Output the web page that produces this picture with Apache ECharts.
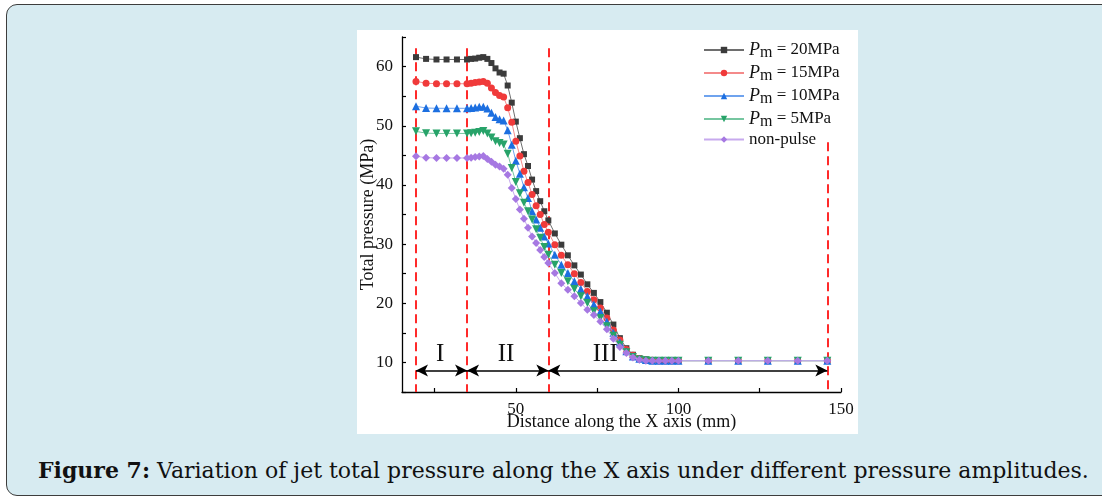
<!DOCTYPE html>
<html>
<head>
<meta charset="utf-8">
<script src="https://cdn.jsdelivr.net/npm/echarts@6/dist/echarts.min.js"></script>
<style>
  html, body { margin: 0; padding: 0; background: #fff; }
  body { width: 1102px; height: 498px; position: relative; overflow: hidden; }
  .panel {
    position: absolute; left: 6px; top: 4px; width: 1130px; height: 490px;
    background: #d7ebf1; border: 1.5px solid #3d3d3d; border-radius: 11px;
  }
  .paper { position: absolute; left: 357px; top: 30px; width: 501px; height: 404px; background: #fff; }
  .caption {
    position: absolute; left: 38px; top: 457px; white-space: nowrap;
    font-family: "DejaVu Serif", serif; font-size: 22px; color: #111;
  }
  #chart { position: absolute; left: 0; top: 0; width: 1102px; height: 498px; }
</style>
</head>
<body>
<div class="panel"></div>
<div class="paper"></div>
<div class="caption"><b>Figure 7:</b> Variation of jet total pressure along the X axis under different pressure amplitudes.</div>
<div id="chart"></div>
<script>
// distance along X axis (mm)
const xs = [
  19.3, 22.4, 25.6, 28.7, 31.9, 35,
  36.25, 37.5, 38.75, 40, 41.25, 42.5, 43.75, 45, 46.25, 47.5, 48.75, 50, 51.25, 52.5, 53.75, 55, 56.25, 57.5, 58.75, 60,
  62, 64, 66, 68, 70, 72, 74, 76, 78, 80, 82, 84, 86, 88, 90, 92, 94, 96, 98, 100,
  109.2, 118.4, 127.5, 136.7, 145.8
]
// total pressure (MPa)
const pm20 = [
  61.6, 61.3, 61.2, 61.2, 61.2, 61.2,
  61.3, 61.35, 61.5, 61.6, 61.3, 60.6, 59.7, 59.0, 58.8, 56.8, 53.9, 50.7, 47.9, 45.2, 43.2, 40.9, 38.95, 37.25, 35.55, 34.0,
  31.8, 29.9, 28.1, 26.4, 24.85, 23.2, 21.75, 20.2, 18.4, 16.4, 14.1, 12.4, 11.3, 10.7, 10.5, 10.4, 10.35, 10.3, 10.3, 10.3,
  10.3, 10.3, 10.3, 10.3, 10.3
]
const pm15 = [
  57.5, 57.2, 57.1, 57.1, 57.1, 57.1,
  57.2, 57.3, 57.4, 57.5, 57.2, 56.4, 55.6, 55.1, 54.85, 53.05, 50.6, 47.4, 44.9, 42.3, 40.4, 38.4, 36.5, 35.0, 33.3, 32.0,
  29.9, 28.1, 26.5, 25.0, 23.5, 22.0, 20.6, 19.2, 17.5, 15.5, 13.8, 12.2, 11.2, 10.65, 10.45, 10.35, 10.3, 10.3, 10.3, 10.3,
  10.3, 10.3, 10.3, 10.3, 10.3
]
const pm10 = [
  53.3, 53.0, 52.95, 52.95, 52.95, 52.95,
  53.0, 53.1, 53.2, 53.2, 52.9, 52.2, 51.5, 51.1, 50.9, 49.25, 46.8, 44.1, 41.9, 39.6, 37.8, 35.55, 34.15, 32.75, 31.3, 30.1,
  28.2, 26.5, 25.1, 23.7, 22.4, 21.2, 19.8, 18.6, 16.9, 15.0, 13.4, 11.9, 11.0, 10.6, 10.4, 10.3, 10.3, 10.3, 10.3, 10.3,
  10.3, 10.3, 10.3, 10.3, 10.3
]
const pm5 = [
  49.05, 48.75, 48.7, 48.7, 48.7, 48.7,
  48.75, 48.8, 48.95, 49.1, 48.7, 48.0, 47.4, 47.1, 46.85, 45.25, 42.85, 40.5, 38.6, 37.0, 35.55, 34.15, 32.5, 31.05, 29.5, 28.2,
  26.5, 25.1, 23.7, 22.4, 21.2, 20.05, 18.65, 17.5, 16.1, 14.5, 13.0, 11.7, 10.9, 10.5, 10.35, 10.3, 10.3, 10.3, 10.3, 10.3,
  10.3, 10.3, 10.3, 10.3, 10.3
]
const nonPulse = [
  44.85, 44.6, 44.55, 44.55, 44.55, 44.55,
  44.6, 44.7, 44.8, 44.9, 44.4, 43.9, 43.4, 43.1, 42.75, 41.7, 39.5, 37.6, 35.85, 34.3, 32.75, 31.3, 30.2, 29.0, 27.8, 26.8,
  25.1, 23.4, 22.3, 21.2, 20.05, 18.9, 18.0, 16.9, 15.6, 14.0, 12.6, 11.6, 10.85, 10.45, 10.3, 10.3, 10.3, 10.3, 10.3, 10.3,
  10.3, 10.3, 10.3, 10.3, 10.3
]
const seriesNames = ['P_m = 20MPa', 'P_m = 15MPa', 'P_m = 10MPa', 'P_m = 5MPa', 'non-pulse']
// region borders and labels
const regionX = [19.3, 35, 60, 145.8]
const regionTop = [63.1, 63.1, 63.1, 47.2]
const regionNames = ['I', 'II', 'III']
const regionLabelX = [26.7, 47, 77.5]
const xTicks = [25, 50, 75, 100, 125, 150]
const xLabels = [50, 100, 150]

const serif = 'Liberation Serif'
const styles = [
  { line: '#6e6e6e', mark: '#3b3b3b', symbol: 'rect', size: 6, rotate: 0 },
  { line: '#f48a8a', mark: '#f03a3a', symbol: 'circle', size: 7, rotate: 0 },
  { line: '#6fa3ee', mark: '#1c6fe0', symbol: 'triangle', size: 8, rotate: 0 },
  { line: '#76c6a0', mark: '#27a369', symbol: 'triangle', size: 8, rotate: 180 },
  { line: '#c7aaee', mark: '#a678e2', symbol: 'diamond', size: 8, rotate: 0 }
]
const values = [pm20, pm15, pm10, pm5, nonPulse]

const chart = echarts.init(document.getElementById('chart'), null, { renderer: 'canvas' })

const seriesData = values.map((vals, i) => ({
  name: seriesNames[i],
  type: 'line',
  data: xs.map((x, j) => [x, vals[j]]),
  symbol: styles[i].symbol,
  symbolSize: styles[i].size,
  symbolRotate: styles[i].rotate,
  showAllSymbol: true,
  lineStyle: { color: styles[i].line, width: 1 },
  itemStyle: { color: styles[i].mark, borderWidth: 0 },
  emphasis: { disabled: true },
  z: 5 + i
}))

// dashed borders, arrows and region names
const arrowLines = []
for (let i = 0; i < 3; i++) {
  arrowLines.push([{ coord: [regionX[i], 8.65] }, { coord: [regionX[i + 1], 8.65] }])
}
seriesData.push({
  name: 'regions',
  type: 'line',
  data: [],
  silent: true,
  markLine: {
    silent: true,
    animation: false,
    symbol: ['none', 'none'],
    label: { show: false },
    lineStyle: { color: '#ff2a2a', width: 2, type: [9, 5] },
    data: regionX.map((x, i) => [{ coord: [x, regionTop[i]] }, { coord: [x, 5] }])
  },
  z: 3
})
seriesData.push({
  name: 'arrows',
  type: 'line',
  data: [],
  silent: true,
  markLine: {
    silent: true,
    animation: false,
    symbol: ['arrow', 'arrow'],
    symbolSize: [9, 12],
    label: { show: false },
    lineStyle: { color: '#000', width: 1.5, type: 'solid' },
    data: arrowLines
  },
  markPoint: {
    silent: true,
    animation: false,
    symbol: 'circle',
    symbolSize: 1,
    itemStyle: { color: 'transparent' },
    label: {
      show: true, position: 'inside', formatter: '{b}',
      fontFamily: serif, fontSize: 25, color: '#111'
    },
    data: regionNames.map((n, i) => ({ name: n, coord: [regionLabelX[i], 11.4] }))
  },
  z: 4
})

const option = {
  animation: false,
  backgroundColor: 'transparent',
  grid: { left: 402, right: 261, top: 37, bottom: 106 },
  legend: {
    data: seriesNames,
    orient: 'vertical',
    left: 703,
    top: 39,
    padding: 0,
    itemWidth: 40,
    itemHeight: 8,
    itemGap: 1,
    itemStyle: { borderWidth: 0 },
    formatter: function (name) {
      if (name.indexOf('P_m') === 0) {
        return '{p|P}{m|m}{t|' + name.slice(3) + '}'
      }
      return '{t|' + name + '}'
    },
    textStyle: {
      color: '#111',
      fontFamily: serif,
      fontSize: 17,
      rich: {
        p: { fontFamily: serif, fontStyle: 'italic', fontSize: 18, color: '#111', lineHeight: 19 },
        m: { fontFamily: serif, fontSize: 16, color: '#111', lineHeight: 14, padding: [6, 0, 0, 0] },
        t: { fontFamily: serif, fontSize: 17, color: '#111', lineHeight: 19 }
      }
    }
  },
  xAxis: {
    type: 'value',
    min: 15,
    max: 150,
    name: 'Distance along the X axis (mm)',
    nameLocation: 'middle',
    nameGap: 30,
    nameMoveOverlap: false,
    nameTextStyle: { fontFamily: serif, fontSize: 18, color: '#111', verticalAlign: 'middle' },
    axisLine: { show: true, onZero: false, lineStyle: { color: '#000', width: 1.3 } },
    axisTick: { show: true, inside: true, length: 4, customValues: xTicks, lineStyle: { color: '#000', width: 1.2 } },
    axisLabel: { customValues: xLabels, fontFamily: serif, fontSize: 17, color: '#111', margin: 9 },
    splitLine: { show: false }
  },
  yAxis: {
    type: 'value',
    min: 5,
    max: 65,
    interval: 5,
    name: 'Total pressure (MPa)',
    nameLocation: 'middle',
    nameGap: 34,
    nameMoveOverlap: false,
    nameTextStyle: { fontFamily: serif, fontSize: 18, color: '#111', verticalAlign: 'middle' },
    axisLine: { show: true, onZero: false, lineStyle: { color: '#000', width: 1.3 } },
    axisTick: { show: true, inside: true, length: 4, lineStyle: { color: '#000', width: 1.2 } },
    axisLabel: {
      fontFamily: serif, fontSize: 17, color: '#111', margin: 9,
      formatter: function (v) { return v % 10 === 0 && v >= 10 && v <= 60 ? String(v) : '' }
    },
    splitLine: { show: false }
  },
  series: seriesData
}

chart.setOption(option)
</script>
</body>
</html>
